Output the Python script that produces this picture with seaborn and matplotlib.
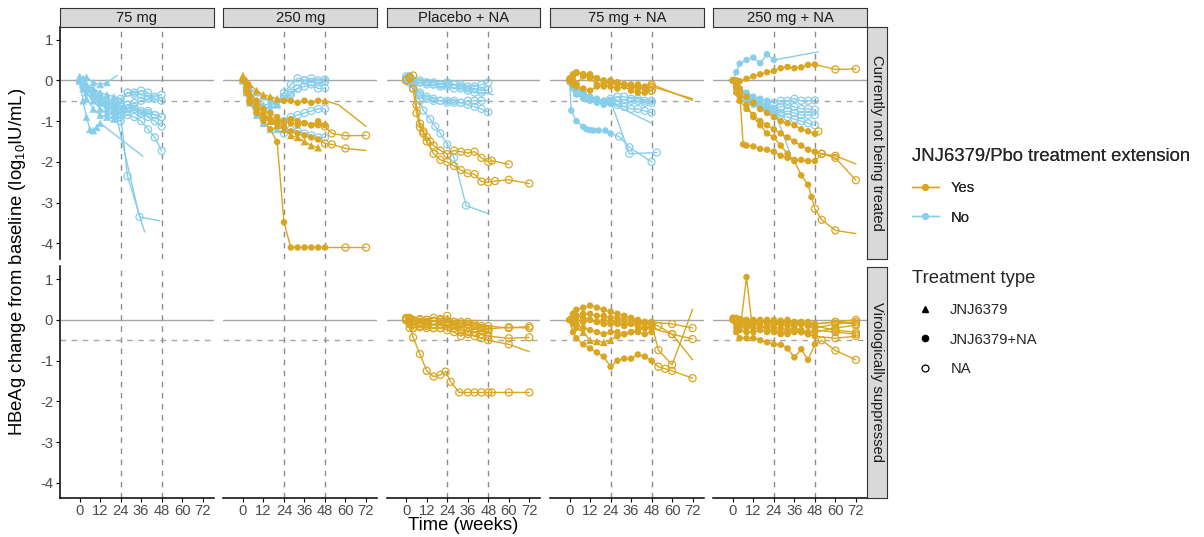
import numpy as np
import pandas as pd
import matplotlib
matplotlib.use("Agg")
import matplotlib.pyplot as plt
from matplotlib.lines import Line2D
import seaborn as sns

sns.set_theme(style="white")
plt.rcParams["font.family"] = ["Liberation Sans", "DejaVu Sans"]
plt.rcParams["mathtext.default"] = "regular"

# ---------------- data ----------------
COLS = ["75 mg", "250 mg", "Placebo + NA", "75 mg + NA", "250 mg + NA"]
ROWS = ["Currently not being treated", "Virologically suppressed"]
EXT_LEVELS = ["Yes", "No"]
TRT_LABELS = ["JNJ6379", "JNJ6379+NA", "NA"]
X_TICKS = [0, 12, 24, 36, 48, 60, 72]
Y_TICKS = [-4, -3, -2, -1, 0, 1]

W14 = [0, 2, 4, 8, 12, 16, 20, 24, 28, 32, 36, 40, 44, 48]
W16 = [0, 2, 4, 8, 12, 16, 20, 24, 28, 32, 36, 40, 44, 48, 60, 72]
W17 = [0, 2, 4, 8, 12, 16, 20, 24, 28, 32, 36, 40, 44, 48, 52, 60, 72]

# shape codes: T = JNJ6379, C = JNJ6379+NA, O = NA, "-" = no marker
# (extension, weeks, change, shape codes)
m75_cnt = [
    ("No", W14, [0.05, 0, -0.1, -0.2, -0.3, -0.35, -0.4, -0.45, -0.3, -0.3, -0.35, -0.4, -0.45, -0.5], "TTTTTTTOOOOOOO"),
    ("No", W14, [0, -0.1, -0.2, -0.35, -0.5, -0.55, -0.6, -0.65, -0.6, -0.7, -0.75, -0.8, -0.85, -0.9], "TTTTTTTOOOOOOO"),
    ("No", W14, [0, -0.05, -0.2, -0.4, -0.55, -0.7, -0.75, -0.8, -0.7, -0.65, -0.8, -0.9, -1.0, -1.13], "TTTTTTTOOOOOOO"),
    ("No", W14, [0.05, -0.1, -0.3, -0.5, -0.7, -0.8, -0.85, -0.9, -0.85, -0.9, -1.0, -1.2, -1.4, -1.73], "TTTTTTTOOOOOOO"),
    ("No", [0, 2, 4, 8, 12, 16, 20, 24, 28, 32, 36, 40], [0, -0.1, -0.15, -0.3, -0.4, -0.45, -0.5, -0.55, -0.3, -0.35, -0.25, -0.3], "TTTTTTTOOOOO"),
    ("No", [0, 2, 4, 8, 12, 16, 20, 24, 28, 38], [0, -0.1, -0.2, -0.35, -0.5, -0.6, -0.7, -0.85, -2.35, -3.72], "TTTTTTTOO-"),
    ("No", [0, 2, 4, 8, 12, 16, 20, 35, 47], [0, -0.05, -0.15, -0.3, -0.4, -0.5, -0.6, -3.35, -3.45], "TTTTTTTO-"),
    ("No", [0, 2, 4, 6, 8, 10, 12, 37], [0, -0.5, -0.9, -1.2, -1.23, -1.15, -1.05, -1.86], "TTTTTTT-"),
    ("No", [0, 2, 4, 8, 12, 16, 22], [0, 0.05, 0.08, -0.05, -0.1, -0.05, 0.12], "TTTTTT-"),
    ("No", W14, [0.1, 0, -0.15, -0.3, -0.45, -0.6, -0.7, -0.75, -0.6, -0.55, -0.5, -0.45, -0.4, -0.35], "TTTTTTTOOOOOOO"),
    ("No", [0, 2, 4, 8, 12, 16, 20, 24], [0, -0.2, -0.45, -0.7, -0.85, -0.9, -0.95, -1.0], "TTTTTTTO"),
    ("No", W14, [0, -0.05, -0.1, -0.25, -0.35, -0.5, -0.55, -0.6, -0.75, -0.7, -0.8, -0.75, -0.85, -0.9], "TTTTTTTOOOOOOO"),
]

m250_cnt = [
    ("No", W14, [0, -0.2, -0.35, -0.5, -0.6, -0.6, -0.55, -0.3, -0.1, 0.05, 0, -0.05, -0.05, -0.04], "TTTTTTTOOOOOOO"),
    ("No", W14, [0, -0.1, -0.3, -0.5, -0.65, -0.7, -0.6, -0.4, -0.3, -0.2, -0.15, -0.1, -0.2, -0.19], "TTTTTTTOOOOOOO"),
    ("No", W14, [0.05, -0.2, -0.5, -0.75, -0.9, -1.0, -1.1, -1.0, -0.9, -0.85, -0.8, -0.75, -0.7, -0.7], "TTTTTTTOOOOOOO"),
    ("No", W14, [0, -0.3, -0.55, -0.85, -1.05, -1.2, -1.2, -1.3, -1.2, -1.25, -1.3, -1.35, -1.4, -1.4], "TTTTTTTOOOOOOO"),
    ("No", W14, [0, -0.1, -0.2, -0.3, -0.4, -0.5, -0.55, -0.45, -0.35, -0.2, 0, 0.05, 0, 0.02], "TTTTTTTOOOOOOO"),
    ("Yes", [0, 2, 4, 8, 12, 16, 20, 24, 28, 32, 36, 40, 44, 48, 56, 72],
     [0.12, 0, -0.1, -0.25, -0.35, -0.4, -0.45, -0.5, -0.5, -0.55, -0.5, -0.55, -0.5, -0.5, -0.6, -1.13], "TTTTTTTCCCCCCT--"),
    ("Yes", [0, 2, 4, 8, 12, 16, 20, 24, 28, 32, 36, 40, 44, 48, 52, 60, 72],
     [0.05, -0.1, -0.3, -0.5, -0.7, -0.8, -0.9, -1.0, -1.05, -1.1, -1.05, -1.1, -1.1, -1.13, -1.3, -1.36, -1.35], "TTTCCCCCCCCCCOOOO"),
    ("Yes", W17, [0, -0.2, -0.4, -0.6, -0.8, -0.95, -1.05, -1.15, -1.25, -1.3, -1.35, -1.4, -1.45, -1.55, -1.57, -1.67, -1.72], "CCCCCCCCCCCCCOOO-"),
    ("Yes", W16, [0, -0.2, -0.5, -0.8, -1.0, -1.2, -1.51, -3.48, -4.1, -4.1, -4.1, -4.1, -4.1, -4.1, -4.1, -4.1], "CCCCCCCCCCCCCCOO"),
    ("Yes", [0, 2, 4, 8, 12, 16, 20, 24, 28, 32, 36, 40, 44],
     [0.1, -0.15, -0.4, -0.6, -0.8, -1.0, -1.1, -1.2, -1.35, -1.4, -1.5, -1.6, -1.65], "TTTTTTTTTTTTT"),
    ("Yes", W14, [0, -0.3, -0.55, -0.75, -0.9, -0.95, -1.0, -1.05, -0.95, -1.0, -1.05, -1.1, -1.0, -1.1], "CCCCCCCCCCCCCC"),
]

pbo_cnt = [
    ("No", W14, [0.05, 0.1, 0, -0.05, -0.05, -0.1, -0.1, -0.1, -0.1, -0.15, -0.2, -0.2, -0.25, -0.23], "OOOOOOOOOOOOOO"),
    ("No", [0, 2, 4, 8, 12, 16, 20, 24, 28, 32, 36, 40, 44, 51],
     [0, 0.05, -0.02, -0.05, -0.1, -0.1, -0.15, -0.15, -0.2, -0.2, -0.25, -0.3, -0.3, -0.35], "OOOOOOOOOOOOO-"),
    ("No", W14, [0.05, 0, -0.1, -0.3, -0.4, -0.45, -0.5, -0.5, -0.5, -0.55, -0.6, -0.65, -0.7, -0.78], "OOOOOOOOOOOOOO"),
    ("No", W14, [0, -0.05, -0.2, -0.35, -0.45, -0.5, -0.5, -0.55, -0.55, -0.55, -0.5, -0.5, -0.5, -0.5], "OOOOOOOOOOOOO-"),
    ("No", [0, 2, 4, 8, 10, 14, 17, 20, 24, 28, 35, 48],
     [0, -0.05, -0.2, -0.5, -0.74, -0.95, -1.13, -1.3, -1.57, -1.9, -3.07, -3.27], "OOOOOOOOOOO-"),
    ("No", W14, [0.1, 0.05, 0, 0, -0.05, -0.05, -0.1, -0.05, -0.1, -0.1, -0.15, -0.15, -0.1, -0.05], "OOOOOOOOOOOOOO"),
    ("Yes", [0, 2, 4, 6, 8, 10, 12, 14, 16, 20, 24, 28, 32, 36, 40, 44, 48, 50, 60],
     [0, 0.08, 0.12, -0.6, -1.06, -1.25, -1.39, -1.5, -1.6, -1.72, -1.81, -1.72, -1.75, -1.78, -1.75, -1.9, -2.0, -1.97, -2.06],
     "OOOOOOOOOOOOOOOOOOO"),
    ("Yes", [0, 2, 4, 6, 8, 10, 12, 16, 20, 24, 28, 32, 36, 40, 44, 48, 52, 60, 72],
     [0, 0.05, -0.2, -0.8, -1.15, -1.3, -1.5, -1.8, -1.95, -2.0, -2.1, -2.2, -2.28, -2.3, -2.48, -2.5, -2.47, -2.44, -2.53],
     "OOOOOOOOOOOOOOOOOOO"),
]

m75na_cnt = [
    ("No", [0, 1, 4, 8, 10, 12, 14, 17, 21, 24, 29, 35, 48],
     [-0.05, -0.74, -1.0, -1.14, -1.2, -1.22, -1.23, -1.23, -1.23, -1.3, -1.38, -1.64, -2.0], "CCCCCCCCCCOOO"),
    ("No", [0, 2, 4, 8, 12, 16, 20, 24, 35, 51], [0, -0.1, -0.2, -0.3, -0.4, -0.5, -0.5, -0.5, -1.8, -1.77], "CCCCCCCCOO"),
    ("No", W14, [0, -0.1, -0.3, -0.4, -0.45, -0.5, -0.55, -0.5, -0.5, -0.55, -0.5, -0.5, -0.55, -0.5], "CCCCCCCOOOOOOO"),
    ("No", W14, [0, -0.2, -0.35, -0.45, -0.5, -0.55, -0.6, -0.55, -0.6, -0.65, -0.7, -0.7, -0.75, -0.79], "CCCCCCCOOOOOOO"),
    ("No", [0, 2, 4, 8, 12, 16, 20, 24, 48], [0, -0.15, -0.25, -0.35, -0.45, -0.5, -0.55, -0.55, -1.05], "CCCCCCCC-"),
    ("No", W14, [0, -0.05, -0.1, -0.3, -0.4, -0.45, -0.5, -0.45, -0.4, -0.4, -0.45, -0.45, -0.5, -0.55], "CCCCCCCOOOOOOO"),
    ("Yes", [0, 2, 4, 8, 12, 16, 20, 24, 28, 32, 36, 40, 44, 48, 72],
     [0, 0.1, 0.2, 0.15, 0.1, 0.05, 0, -0.05, -0.1, -0.1, -0.15, -0.1, -0.15, -0.1, -0.49], "CCCCCCCCCCCCCO-"),
    ("Yes", [0, 2, 4, 8, 12, 16, 20, 24, 28, 32, 36, 40, 44, 48, 72],
     [0.05, 0, -0.1, 0.1, 0.15, 0.05, -0.05, -0.05, -0.05, -0.1, -0.1, -0.15, -0.2, -0.15, -0.45], "CCCCCCCCCCCCCO-"),
    ("Yes", W14, [0, 0.15, 0.18, 0.15, 0.05, -0.1, -0.15, 0, -0.05, -0.1, -0.15, -0.2, -0.2, -0.25], "CCCCCCCCCCCCCO"),
    ("Yes", W14, [0, -0.1, -0.15, -0.2, -0.25, -0.15, -0.1, -0.15, -0.2, -0.15, -0.25, -0.3, -0.3, -0.25], "CCCCCCCCCCCCCO"),
]

m250na_cnt = [
    ("No", [0, 2, 4, 8, 12, 16, 20, 24, 50], [0, 0.2, 0.41, 0.5, 0.56, 0.42, 0.64, 0.5, 0.7], "CCCCCCCC-"),
    ("No", W14, [0, -0.1, -0.2, -0.3, -0.4, -0.45, -0.5, -0.55, -0.5, -0.5, -0.45, -0.5, -0.5, -0.49], "CCCCCCCOOOOOOO"),
    ("No", W14, [0, -0.15, -0.25, -0.4, -0.5, -0.6, -0.65, -0.7, -0.65, -0.6, -0.65, -0.7, -0.7, -0.72], "CCCCCCCOOOOOOO"),
    ("No", W14, [0, -0.1, -0.3, -0.45, -0.55, -0.65, -0.7, -0.75, -0.8, -0.75, -0.8, -0.85, -0.85, -0.85], "CCCCCCCOOOOOOO"),
    ("No", W14, [0, -0.2, -0.35, -0.5, -0.6, -0.7, -0.75, -0.8, -0.85, -0.9, -0.95, -1.0, -1.05, -1.1], "CCCCCCCOOOOOOO"),
    ("No", [0, 2, 4, 8, 12, 16, 20, 24, 34], [0, -0.1, -0.2, -0.35, -0.45, -0.55, -0.6, -0.7, -1.85], "CCCCCCCO-"),
    ("Yes", W16, [0, 0, -0.02, 0.04, 0.1, 0.15, 0.2, 0.23, 0.3, 0.33, 0.3, 0.32, 0.38, 0.39, 0.27, 0.28], "CCCCCCCCCCCCCCOO"),
    ("Yes", [0, 2, 4, 6, 8, 12, 16, 20, 24, 28, 32, 36, 40, 44, 48, 52, 60, 72],
     [0, -0.18, -0.3, -1.57, -1.6, -1.62, -1.68, -1.7, -1.75, -1.85, -1.9, -1.95, -1.95, -1.98, -1.98, -1.8, -1.85, -2.05],
     "CCCCCCCCCCCCCCCOO-"),
    ("Yes", [0, 2, 4, 8, 12, 16, 20, 24, 28, 32, 36, 40, 44, 46, 48, 52, 60, 72],
     [0, -0.3, -0.4, -0.6, -0.9, -1.1, -1.3, -1.4, -1.6, -1.8, -1.98, -2.33, -2.56, -2.86, -3.15, -3.42, -3.68, -3.76],
     "CCCCCCCCCCCCCCOOO-"),
    ("Yes", W17, [0, -0.2, -0.5, -0.7, -0.85, -1.0, -1.1, -1.2, -1.3, -1.4, -1.5, -1.6, -1.7, -1.75, -1.8, -1.9, -2.45],
     "CCCCCCCCCCCCCCOOO"),
    ("Yes", [0, 2, 4, 8, 12, 16, 20, 24, 28, 32, 36, 40, 44, 48, 50],
     [0, -0.1, -0.2, -0.4, -0.55, -0.7, -0.8, -0.9, -1.0, -1.05, -1.1, -1.2, -1.25, -1.31, -1.25], "CCCCCCCCCCCCCCO"),
]

pbo_vs = [
    ("Yes", W16, [0, 0.02, -0.02, 0, -0.05, -0.03, 0, -0.05, -0.05, -0.1, -0.1, -0.1, -0.15, -0.15, -0.2, -0.16], "OOOOOOOOOOOOOOOO"),
    ("Yes", W16, [0, -0.05, -0.1, -0.08, -0.1, -0.12, -0.1, -0.15, -0.2, -0.25, -0.3, -0.3, -0.35, -0.4, -0.45, -0.43], "OOOOOOOOOOOOOOOO"),
    ("Yes", W16, [0.02, -0.2, -0.2, -0.15, -0.2, -0.2, -0.2, -0.1, -0.15, -0.3, -0.35, -0.4, -0.45, -0.5, -0.6, -0.78], "OOOOOOOOOOOOOOO-"),
    ("Yes", W14, [0.05, 0, -0.05, 0.02, 0, 0.05, 0.02, 0.1, -0.05, -0.1, -0.05, -0.1, -0.2, -0.25], "OOOOOOOOOOOOOO"),
    ("Yes", [0, 2, 4, 8, 12, 16, 20, 23, 26, 31, 36, 40, 44, 48, 50, 60, 72],
     [0, -0.1, -0.43, -0.84, -1.25, -1.39, -1.35, -1.27, -1.52, -1.78, -1.78, -1.78, -1.78, -1.78, -1.78, -1.78, -1.78],
     "OOOOOOOOOOOOOOOOO"),
    ("Yes", W14, [0, -0.1, -0.2, -0.18, -0.15, -0.2, -0.2, -0.25, -0.3, -0.4, -0.2, -0.3, -0.25, -0.3], "OOOOOOOOOOOOOO"),
    ("Yes", W16, [0, 0.05, 0, -0.05, 0, -0.02, -0.05, -0.05, -0.1, -0.05, -0.1, -0.15, -0.2, -0.22, -0.18, -0.2], "OOOOOOOOOOOOOOOO"),
]

m75na_vs = [
    ("Yes", W17, [0, 0.15, 0.25, 0.3, 0.35, 0.3, 0.25, 0.2, 0.15, 0.1, 0.05, 0, -0.05, -0.1, -0.15, -0.35, -0.47], "CCCCCCCCCCCCCCOOO"),
    ("Yes", W17, [0, 0.05, 0.1, 0.15, 0.15, 0.1, 0.1, 0.05, 0.05, 0, 0, -0.05, -0.05, -0.1, -0.74, -1.1, 0.26], "CCCCCCCCCCCCCCOO-"),
    ("Yes", [0, 2, 4, 8, 12, 16, 20, 24, 28, 32, 36, 40, 44, 48, 52, 56, 60, 72],
     [0, -0.3, -0.45, -0.6, -0.7, -0.8, -0.9, -1.15, -1.0, -0.95, -0.95, -0.85, -0.9, -1.0, -1.15, -1.2, -1.25, -1.43],
     "CCCCCCCCCCCCCCOOOO"),
    ("Yes", W14, [0, -0.1, -0.2, -0.3, -0.5, -0.53, -0.55, -0.5, -0.4, -0.35, -0.3, -0.25, -0.2, -0.15], "CCCTTTTTCCCCCC"),
    ("Yes", W16, [0, 0.1, 0, -0.05, 0, -0.05, -0.1, -0.1, -0.1, -0.15, -0.1, -0.15, -0.2, -0.2, -0.35, -0.98], "CCCCCCCCCCCCCCO-"),
    ("Yes", W16, [0, 0.05, 0.1, 0.05, 0, -0.05, 0, -0.05, -0.05, -0.1, -0.05, -0.1, -0.1, -0.05, -0.1, -0.2], "CCCCCCCCCCCCCCOO"),
    ("Yes", W14, [0, -0.05, -0.1, -0.2, -0.25, -0.3, -0.35, -0.3, -0.3, -0.35, -0.3, -0.3, -0.35, -0.3], "CCCCCCCCCCCCCC"),
]

m250na_vs = [
    ("Yes", [0, 2, 5, 8, 11, 16, 20, 24, 28, 32, 36, 40, 44, 48, 60, 72],
     [0, -0.05, 0, 1.05, -0.05, -0.05, 0, -0.05, -0.05, 0, -0.05, -0.05, -0.1, -0.1, -0.05, -0.1], "CCCCCCCCCCCCCCOO"),
    ("Yes", W16, [0, -0.05, -0.1, -0.05, 0, -0.05, -0.05, -0.05, -0.1, -0.05, -0.1, -0.1, -0.05, -0.1, -0.05, 0], "CCCCCCCCCCCCCCOO"),
    ("Yes", W16, [0, -0.2, -0.25, -0.3, -0.3, -0.25, -0.3, -0.25, -0.3, -0.35, -0.3, -0.3, -0.35, -0.25, -0.3, -0.35], "CCCCCCCCCCCCCCOO"),
    ("Yes", W17, [0, -0.3, -0.45, -0.45, -0.45, -0.5, -0.55, -0.6, -0.61, -0.7, -0.92, -0.72, -0.98, -0.6, -0.5, -0.75, -0.98],
     "CCCCCCCCCCCCCCOOO"),
    ("Yes", W16, [0.05, 0, -0.1, -0.15, -0.2, -0.2, -0.15, -0.2, -0.2, -0.25, -0.2, -0.25, -0.3, -0.3, -0.2, -0.13], "CCCCCCCCCCCCCCOO"),
    ("Yes", W16, [0, 0.05, 0.02, 0, -0.02, 0, -0.05, 0, -0.02, -0.05, -0.08, -0.1, -0.1, -0.15, -0.25, -0.3], "CCCCCCCCCCCCCCOO"),
    ("Yes", W16, [0, -0.1, -0.15, -0.2, -0.1, -0.15, -0.2, -0.3, -0.35, -0.3, -0.25, -0.3, -0.35, -0.4, -0.45, -0.4], "CCCCCCCCCCCCCCOO"),
    ("Yes", W16, [0.05, 0.02, -0.05, -0.08, -0.1, -0.05, -0.1, -0.12, -0.1, -0.15, -0.12, -0.1, -0.15, -0.2, -0.1, -0.05], "CCCCCCCCCCCCCCOO"),
]

PANELS = {
    (ROWS[0], COLS[0]): m75_cnt,
    (ROWS[0], COLS[1]): m250_cnt,
    (ROWS[0], COLS[2]): pbo_cnt,
    (ROWS[0], COLS[3]): m75na_cnt,
    (ROWS[0], COLS[4]): m250na_cnt,
    (ROWS[1], COLS[2]): pbo_vs,
    (ROWS[1], COLS[3]): m75na_vs,
    (ROWS[1], COLS[4]): m250na_vs,
}

records = []
sid = 0
for (row, col), subjects in PANELS.items():
    for ext, weeks, vals, shapes in subjects:
        assert len(weeks) == len(vals) == len(shapes), (row, col, sid)
        for w, v, s in zip(weeks, vals, shapes):
            records.append(dict(row=row, col=col, sid=sid, ext=ext, week=w, chg=v, shape=s))
        sid += 1
df = pd.DataFrame(records)

# ---------------- styling ----------------
GOLD = "#DAA520"
BLUE = "#87CEEB"
PAL = {"Yes": GOLD, "No": BLUE}
REF = "#A6A6A6"
VREF = "#8C8C8C"

W_PX, H_PX = 1204, 537
fig = plt.figure(figsize=(W_PX / 100, H_PX / 100), dpi=100)

def fbox(x, y, w, h):
    return [x / W_PX, 1 - (y + h) / H_PX, w / W_PX, h / H_PX]

PL, PW, PG = 60, 153.8, 9.5
ROW_TOP = [27, 266.5]
PH = 231.5
XLIM = (-11.5, 78.5)
YLIM = (-4.37, 1.31)
SMALL = 10.6
BIG = 13.3

for r, row in enumerate(ROWS):
    for c, col in enumerate(COLS):
        left = PL + c * (PW + PG)
        ax = fig.add_axes(fbox(left, ROW_TOP[r], PW, PH))
        ax.set_facecolor("white")
        ax.axhline(0, color=REF, lw=1.0, zorder=1)
        ax.axhline(-0.5, color=REF, lw=1.0, ls=(0, (4, 4)), zorder=1)
        for xv in (24, 48):
            ax.axvline(xv, color=VREF, lw=1.0, ls=(0, (4, 4)), zorder=1)

        sub = df[(df["row"] == row) & (df["col"] == col)]
        if len(sub):
            for ext in ["No", "Yes"]:
                se = sub[sub["ext"] == ext]
                if not len(se):
                    continue
                sns.lineplot(data=se, x="week", y="chg", units="sid", estimator=None,
                             color=PAL[ext], lw=1.0, sort=False, legend=False, ax=ax, zorder=2)
            for ext in ["No", "Yes"]:
                se = sub[sub["ext"] == ext]
                tri = se[se["shape"] == "T"]
                fil = se[se["shape"] == "C"]
                opn = se[se["shape"] == "O"]
                if len(tri):
                    sns.scatterplot(data=tri, x="week", y="chg", color=PAL[ext], marker="^",
                                    s=30, linewidth=0, edgecolor="none", legend=False, ax=ax, zorder=3)
                if len(fil):
                    sns.scatterplot(data=fil, x="week", y="chg", color=PAL[ext], marker="o",
                                    s=22, linewidth=0, edgecolor="none", legend=False, ax=ax, zorder=3)
                if len(opn):
                    sns.scatterplot(data=opn, x="week", y="chg", color=PAL[ext], marker="o",
                                    s=26, facecolors="none", edgecolor=PAL[ext], linewidth=0.9,
                                    legend=False, ax=ax, zorder=3)

        ax.set_xlim(*XLIM)
        ax.set_ylim(*YLIM)
        ax.set_xlabel("")
        ax.set_ylabel("")
        ax.set_xticks(X_TICKS)
        ax.set_yticks(Y_TICKS)
        for sp in ["top", "right"]:
            ax.spines[sp].set_visible(False)
        ax.spines["left"].set_visible(c == 0)
        ax.spines["bottom"].set_visible(r == 1)
        for sp in ["left", "bottom"]:
            ax.spines[sp].set_color("black")
            ax.spines[sp].set_linewidth(1.1)
        ax.tick_params(axis="y", left=(c == 0), labelleft=(c == 0), length=3, width=0.8,
                       color="black", labelcolor="#4D4D4D", labelsize=SMALL, pad=2)
        ax.tick_params(axis="x", bottom=(r == 1), labelbottom=(r == 1), length=3, width=0.8,
                       color="black", labelcolor="#4D4D4D", labelsize=SMALL, pad=1)
        if c == 0:
            ax.set_yticklabels([str(t) for t in Y_TICKS])

        # top strips
        if r == 0:
            sax = fig.add_axes(fbox(left, 8, PW, 19))
            sax.set_facecolor("#D9D9D9")
            sax.set_xticks([]); sax.set_yticks([])
            for sp in sax.spines.values():
                sp.set_color("#333333"); sp.set_linewidth(0.8)
            sax.text(0.5, 0.45, col, ha="center", va="center", fontsize=SMALL, color="#1A1A1A",
                     transform=sax.transAxes)
    # right strips
    rax = fig.add_axes(fbox(PL + 5 * PW + 4 * PG, ROW_TOP[r], 20, PH))
    rax.set_facecolor("#D9D9D9")
    rax.set_xticks([]); rax.set_yticks([])
    for sp in rax.spines.values():
        sp.set_color("#333333"); sp.set_linewidth(0.8)
    rax.text(0.5, 0.5, row, ha="center", va="center", rotation=-90, fontsize=SMALL,
             color="#1A1A1A", transform=rax.transAxes)

fig.text(18 / W_PX, 1 - 262 / H_PX, "HBeAg change from baseline (log$_{10}$IU/mL)",
         rotation=90, ha="center", va="center", fontsize=BIG, color="black")
fig.text(463 / W_PX, 1 - 526 / H_PX, "Time (weeks)", ha="center", va="center",
         fontsize=BIG, color="black")

# legends
h1 = [Line2D([], [], color=PAL[e], marker="o", markersize=5, lw=1.0, markeredgewidth=0) for e in EXT_LEVELS]
leg1 = fig.legend(h1, EXT_LEVELS, title="JNJ6379/Pbo treatment extension", loc="upper left",
                  bbox_to_anchor=(912 / W_PX, 1 - 148 / H_PX), frameon=False, fontsize=SMALL,
                  title_fontsize=BIG, alignment="left", handlelength=1.8, handletextpad=0.8,
                  labelspacing=1.07, borderpad=0, borderaxespad=0)
h2 = [Line2D([], [], color="black", marker="^", markersize=5, lw=0),
      Line2D([], [], color="black", marker="o", markersize=4.5, lw=0),
      Line2D([], [], color="black", marker="o", markersize=5, lw=0, markerfacecolor="none", markeredgewidth=0.9)]
leg2 = fig.legend(h2, TRT_LABELS, title="Treatment type", loc="upper left",
                  bbox_to_anchor=(912 / W_PX, 1 - 270 / H_PX), frameon=False, fontsize=SMALL,
                  title_fontsize=BIG, alignment="left", handlelength=1.8, handletextpad=0.8,
                  labelspacing=1.07, borderpad=0, borderaxespad=0)
fig.add_artist(leg1)

fig.savefig("out.png", dpi=100, facecolor="white")
